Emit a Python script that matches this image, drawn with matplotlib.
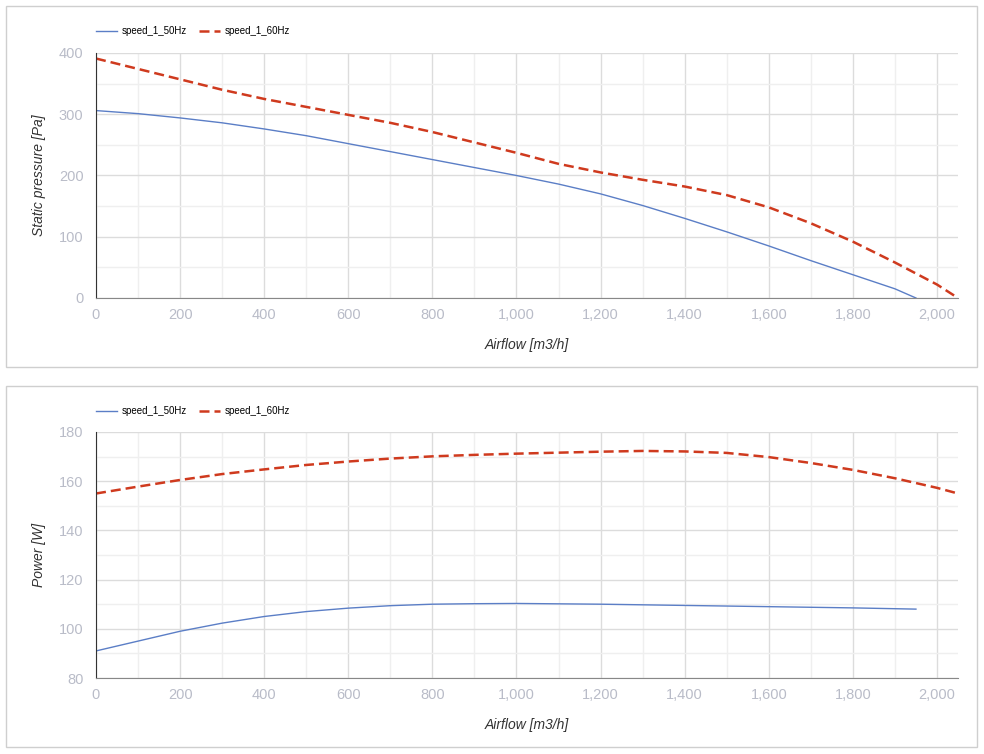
import matplotlib
matplotlib.use("Agg")
import matplotlib.pyplot as plt
from matplotlib.patches import Rectangle
from matplotlib.ticker import MultipleLocator, FuncFormatter

plt.rcParams["font.family"] = ["Liberation Sans", "DejaVu Sans"]

# Static pressure curves [Pa] vs airflow [m3/h]
flow_p50 = [0, 100, 200, 300, 400, 500, 600, 700, 800, 900, 1000, 1100, 1200, 1300, 1400, 1500, 1600, 1700, 1800, 1900, 1950]
pres_p50 = [306, 301, 294, 286, 276, 265, 252, 239, 226, 213, 200, 186, 170, 151, 130, 108, 85, 61, 38, 15, 0]
flow_p60 = [0, 100, 200, 300, 400, 500, 600, 700, 800, 900, 1000, 1100, 1200, 1300, 1400, 1500, 1600, 1700, 1800, 1900, 2000, 2050]
pres_p60 = [391, 374, 357, 340, 325, 312, 299, 286, 271, 254, 237, 219, 205, 193, 182, 168, 148, 122, 92, 58, 22, 0]

# Power curves [W] vs airflow [m3/h]
flow_w50 = [0, 100, 200, 300, 400, 500, 600, 700, 800, 900, 1000, 1200, 1400, 1600, 1800, 1950]
power_w50 = [91, 95, 99, 102.3, 105, 107, 108.4, 109.4, 110, 110.2, 110.3, 110, 109.5, 109, 108.5, 108]
flow_w60 = [0, 100, 200, 300, 400, 500, 600, 700, 800, 900, 1000, 1100, 1200, 1300, 1400, 1500, 1600, 1700, 1800, 1900, 2000, 2050]
power_w60 = [155, 157.8, 160.5, 162.9, 164.8, 166.6, 168, 169.2, 170.1, 170.7, 171.2, 171.6, 172, 172.3, 172.1, 171.5, 169.8, 167.4, 164.6, 161.2, 157.3, 155]

labels = ["speed_1_50Hz", "speed_1_60Hz"]
BLUE = "#5b7ec6"
RED = "#cf3a1e"

W, H = 984, 754
fig = plt.figure(figsize=(W / 100, H / 100), dpi=100)
fig.patch.set_facecolor("white")


def fx(px):
    return px / W


def fy(py):
    return 1 - py / H


# panel frames
for top, bot in [(6, 367), (386, 747)]:
    fig.patches.append(Rectangle((fx(6), fy(bot)), fx(971), (bot - top) / H,
                                 transform=fig.transFigure, fill=False,
                                 edgecolor="#cfcfcf", linewidth=1))


def style_axis(ax, ymin, ymax, ymaj, ymin_step, ylabel):
    ax.set_xlim(0, 2050)
    ax.set_ylim(ymin, ymax)
    ax.xaxis.set_major_locator(MultipleLocator(200))
    ax.xaxis.set_minor_locator(MultipleLocator(100))
    ax.yaxis.set_major_locator(MultipleLocator(ymaj))
    ax.yaxis.set_minor_locator(MultipleLocator(ymin_step))
    ax.xaxis.set_major_formatter(FuncFormatter(lambda v, p: f"{int(v):,}"))
    ax.grid(which="major", color="#dcdcdc", linewidth=1)
    ax.grid(which="minor", color="#efefef", linewidth=1)
    ax.set_axisbelow(True)
    for s in ["top", "right"]:
        ax.spines[s].set_visible(False)
    ax.spines["left"].set_color("#333333")
    ax.spines["bottom"].set_color("#888888")
    ax.tick_params(which="both", length=0, colors="#b9bcc8", labelsize=10.5)
    ax.tick_params(axis="x", pad=7)
    ax.tick_params(axis="y", pad=9)
    ax.set_xlabel("Airflow [m3/h]", fontsize=10, style="italic", color="#333333", labelpad=12)
    ax.set_ylabel(ylabel, fontsize=10, style="italic", color="#333333", labelpad=9)


ax1 = fig.add_axes([fx(96), fy(298), fx(958 - 96), (298 - 53) / H])
ax1.plot(flow_p50, pres_p50, color=BLUE, linewidth=1, label=labels[0])
ax1.plot(flow_p60, pres_p60, color=RED, linewidth=1.8, dashes=(4, 2), label=labels[1])
style_axis(ax1, 0, 400, 100, 50, "Static pressure [Pa]")

ax2 = fig.add_axes([fx(96), fy(678), fx(958 - 96), (678 - 432) / H])
ax2.plot(flow_w50, power_w50, color=BLUE, linewidth=1, label=labels[0])
ax2.plot(flow_w60, power_w60, color=RED, linewidth=1.8, dashes=(4, 2), label=labels[1])
style_axis(ax2, 80, 180, 20, 10, "Power [W]")

for ax, ly in [(ax1, 31), (ax2, 411)]:
    ax.legend(loc="center left", bbox_to_anchor=(fx(87), fy(ly)),
              bbox_transform=fig.transFigure, ncol=2, frameon=False,
              fontsize=7, handlelength=2.2, columnspacing=1.2, handletextpad=0.5)

fig.savefig("out.png", dpi=100)
